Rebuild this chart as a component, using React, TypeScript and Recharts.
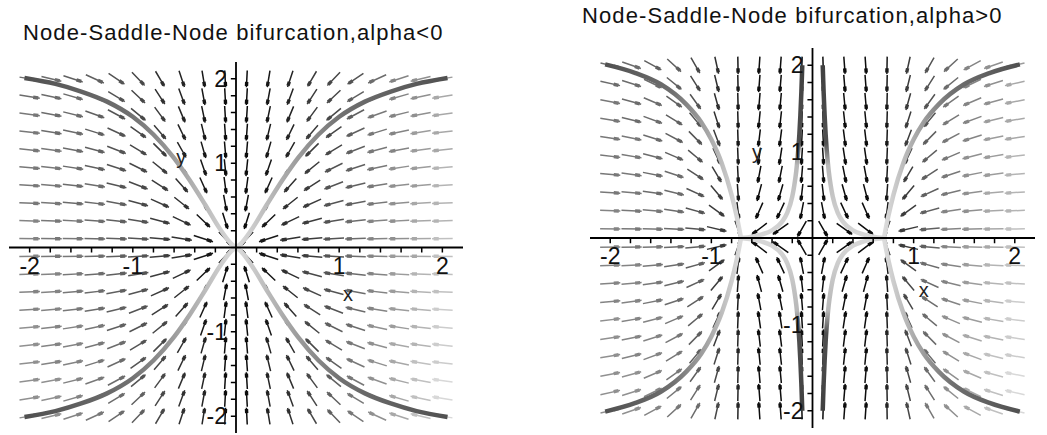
import React from "react";
import { LineChart, Line, XAxis, YAxis, ReferenceLine, ReferenceDot } from "recharts";

// Maple DEplot direction field: 20 x 20 arrows on [-2, 2]
const gridValues = [
  -2, -1.789, -1.579, -1.368, -1.158, -0.947, -0.737, -0.526, -0.316, -0.105,
  0.105, 0.316, 0.526, 0.737, 0.947, 1.158, 1.368, 1.579, 1.789, 2,
];

// x' = x (alpha - x^2), y' = -y ; alpha read from node positions
const alphaLeft = -0.75;
const alphaRight = 0.5;

const minorTicks = [
  -2, -1.8, -1.6, -1.4, -1.2, -1, -0.8, -0.6, -0.4, -0.2,
  0.2, 0.4, 0.6, 0.8, 1, 1.2, 1.4, 1.6, 1.8, 2,
];
const xLabelTicks = [-2, -1, 1, 2];
const yLabelTicks = [2, 1, -1, -2];

// solution curves, first quadrant (the others are mirror images)
const leftCurveX = [2.05, 1.75, 1.5, 1.25, 1.0, 0.8, 0.6, 0.45, 0.3, 0.15, 0.05, 0];
const leftCurveY = [2.01, 1.94, 1.85, 1.73, 1.55, 1.34, 1.06, 0.8, 0.51, 0.21, 0.05, 0];

const rightOuterX = [2.05, 1.75, 1.5, 1.25, 1.1, 1.0, 0.9, 0.8, 0.75, 0.72, 0.707];
const rightOuterY = [2.01, 1.91, 1.78, 1.55, 1.34, 1.14, 0.875, 0.5, 0.254, 0.081, 0];

const rightInnerX = [0.101, 0.105, 0.11, 0.12, 0.13, 0.14, 0.16, 0.18, 0.2, 0.25, 0.3, 0.4, 0.5, 0.6, 0.707];
const rightInnerY = [2.0, 1.86, 1.69, 1.42, 1.2, 1.03, 0.78, 0.61, 0.48, 0.29, 0.19, 0.089, 0.042, 0.016, 0];

// grey level of each arrow column (styling only)
const leftColumnGrey = [130, 125, 118, 108, 95, 80, 62, 45, 28, 12, 12, 28, 45, 65, 85, 105, 130, 150, 170, 190];
const rightColumnGrey = [130, 125, 118, 108, 90, 60, 28, 12, 12, 12, 12, 12, 12, 28, 65, 100, 130, 150, 170, 190];

type Pt = { x: number; y: number | null };

const FONT = '"Liberation Sans", Arial, Helvetica, sans-serif';

function buildArrows(alpha: number, colGrey: number[]) {
  const groups = new Map<number, { shaft: Pt[]; head: Pt[] }>();
  const half = 0.1;
  gridValues.forEach((x, c) => {
    gridValues.forEach((y) => {
      const dx = x * (alpha - x * x);
      const dy = -y;
      const m = Math.hypot(dx, dy) || 1;
      const ux = dx / m;
      const uy = dy / m;
      const rowFrac = (2 - y) / 4;
      const g = Math.min(225, Math.round((colGrey[c] * (0.85 + 0.3 * rowFrac)) / 12) * 12);
      if (!groups.has(g)) groups.set(g, { shaft: [], head: [] });
      const grp = groups.get(g)!;
      grp.shaft.push(
        { x: x - ux * half, y: y - uy * half },
        { x: x + ux * half, y: y + uy * half },
        { x: x + ux * half, y: null }
      );
      grp.head.push(
        { x: x + ux * 0.035, y: y + uy * 0.035 },
        { x: x + ux * 0.085, y: y + uy * 0.085 },
        { x: x + ux * 0.085, y: null }
      );
    });
  });
  return Array.from(groups.entries());
}

function buildTicks(): Pt[] {
  const pts: Pt[] = [];
  minorTicks.forEach((t) => {
    pts.push({ x: t, y: 0 }, { x: t, y: -0.06 }, { x: t, y: null });
  });
  minorTicks.forEach((t) => {
    pts.push({ x: -0.05, y: t }, { x: 0, y: t }, { x: 0, y: null });
  });
  return pts;
}

function curve(xs: number[], ys: number[], sx: number, sy: number): Pt[] {
  return xs
    .map((x, i) => ({ x: x * sx, y: ys[i] * sy }))
    .sort((a, b) => a.x - b.x);
}

const grey = (g: number) => `rgb(${g},${g},${g})`;

interface PanelProps {
  id: string;
  left: number;
  top: number;
  width: number;
  height: number;
  alpha: number;
  colGrey: number[];
  curves: { data: Pt[]; grad: string }[];
  xName: [number, number];
  yName: [number, number];
}

const Panel = ({ id, left, top, width, height, alpha, colGrey, curves, xName, yName }: PanelProps) => {
  const arrows = buildArrows(alpha, colGrey);
  const ticks = buildTicks();
  const labelStyle = { fontSize: 23, fill: "#111", fontFamily: FONT };
  return (
    <div style={{ position: "absolute", left, top }}>
      <LineChart width={width} height={height} margin={{ top: 0, right: 0, bottom: 0, left: 0 }}>
        <defs>
          <linearGradient id={`${id}-dl`} x1="0" y1="0" x2="1" y2="0">
            <stop offset="0" stopColor="#505050" />
            <stop offset="0.5" stopColor="#707070" />
            <stop offset="0.8" stopColor="#b0b0b0" />
            <stop offset="1" stopColor="#dcdcdc" />
          </linearGradient>
          <linearGradient id={`${id}-dr`} x1="1" y1="0" x2="0" y2="0">
            <stop offset="0" stopColor="#505050" />
            <stop offset="0.5" stopColor="#707070" />
            <stop offset="0.8" stopColor="#b0b0b0" />
            <stop offset="1" stopColor="#dcdcdc" />
          </linearGradient>
          <linearGradient id={`${id}-dt`} x1="0" y1="0" x2="0" y2="1">
            <stop offset="0" stopColor="#404040" />
            <stop offset="0.45" stopColor="#505050" />
            <stop offset="0.58" stopColor="#b8b8b8" />
            <stop offset="1" stopColor="#d8d8d8" />
          </linearGradient>
          <linearGradient id={`${id}-db`} x1="0" y1="1" x2="0" y2="0">
            <stop offset="0" stopColor="#404040" />
            <stop offset="0.45" stopColor="#505050" />
            <stop offset="0.58" stopColor="#b8b8b8" />
            <stop offset="1" stopColor="#d8d8d8" />
          </linearGradient>
        </defs>
        <XAxis type="number" dataKey="x" domain={[-2.2, 2.2]} hide allowDataOverflow />
        <YAxis type="number" domain={[-2.2, 2.2]} hide allowDataOverflow />
        {arrows.map(([g, grp]) => (
          <Line
            key={`s${g}`}
            data={grp.shaft}
            dataKey="y"
            type="linear"
            stroke={grey(g)}
            strokeWidth={1.5}
            dot={false}
            activeDot={false}
            connectNulls={false}
            isAnimationActive={false}
          />
        ))}
        {arrows.map(([g, grp]) => (
          <Line
            key={`h${g}`}
            data={grp.head}
            dataKey="y"
            type="linear"
            stroke={grey(g)}
            strokeWidth={3.4}
            dot={false}
            activeDot={false}
            connectNulls={false}
            isAnimationActive={false}
          />
        ))}
        {curves.map((c, i) => (
          <Line
            key={`c${i}`}
            data={c.data}
            dataKey="y"
            type="monotone"
            stroke={`url(#${id}-${c.grad})`}
            strokeWidth={4.5}
            dot={false}
            activeDot={false}
            isAnimationActive={false}
          />
        ))}
        <ReferenceLine x={0} stroke="#000" strokeWidth={1.8} />
        <ReferenceLine y={0} stroke="#000" strokeWidth={1.8} />
        <Line
          data={ticks}
          dataKey="y"
          type="linear"
          stroke="#000"
          strokeWidth={1.5}
          dot={false}
          activeDot={false}
          connectNulls={false}
          isAnimationActive={false}
        />
        {xLabelTicks.map((t) => (
          <ReferenceDot
            key={`xl${t}`}
            x={t}
            y={0}
            r={0}
            fill="none"
            stroke="none"
            label={{ value: String(t), position: "bottom", offset: 10, ...labelStyle }}
          />
        ))}
        {yLabelTicks.map((t) => (
          <ReferenceDot
            key={`yl${t}`}
            x={0}
            y={t}
            r={0}
            fill="none"
            stroke="none"
            label={{ value: String(t), position: "left", offset: 9, ...labelStyle }}
          />
        ))}
        <ReferenceDot
          x={xName[0]}
          y={xName[1]}
          r={0}
          fill="none"
          stroke="none"
          label={{ value: "x", position: "center", fontSize: 20, fill: "#222", fontFamily: FONT }}
        />
        <ReferenceDot
          x={yName[0]}
          y={yName[1]}
          r={0}
          fill="none"
          stroke="none"
          label={{ value: "y", position: "center", fontSize: 20, fill: "#222", fontFamily: FONT }}
        />
      </LineChart>
    </div>
  );
};

const titleStyle: React.CSSProperties = {
  position: "absolute",
  fontFamily: FONT,
  fontSize: 22,
  lineHeight: "22px",
  letterSpacing: "1.1px",
  color: "#111",
  whiteSpace: "nowrap",
};

export default function App() {
  const leftCurves = [
    { data: curve(leftCurveX, leftCurveY, 1, 1), grad: "dr" },
    { data: curve(leftCurveX, leftCurveY, -1, 1), grad: "dl" },
    { data: curve(leftCurveX, leftCurveY, 1, -1), grad: "dr" },
    { data: curve(leftCurveX, leftCurveY, -1, -1), grad: "dl" },
  ];
  const rightCurves = [
    { data: curve(rightOuterX, rightOuterY, 1, 1), grad: "dr" },
    { data: curve(rightOuterX, rightOuterY, -1, 1), grad: "dl" },
    { data: curve(rightOuterX, rightOuterY, 1, -1), grad: "dr" },
    { data: curve(rightOuterX, rightOuterY, -1, -1), grad: "dl" },
    { data: curve(rightInnerX, rightInnerY, 1, 1), grad: "dt" },
    { data: curve(rightInnerX, rightInnerY, -1, 1), grad: "dt" },
    { data: curve(rightInnerX, rightInnerY, 1, -1), grad: "db" },
    { data: curve(rightInnerX, rightInnerY, -1, -1), grad: "db" },
  ];
  return (
    <div style={{ position: "absolute", left: 0, top: 0, width: 1047, height: 435, background: "#fff", overflow: "hidden" }}>
      <div style={{ ...titleStyle, left: 23, top: 22 }}>Node-Saddle-Node bifurcation,alpha&lt;0</div>
      <div style={{ ...titleStyle, left: 582, top: 5 }}>Node-Saddle-Node bifurcation,alpha&gt;0</div>
      <Panel
        id="pl"
        left={9}
        top={62}
        width={454}
        height={371}
        alpha={alphaLeft}
        colGrey={leftColumnGrey}
        curves={leftCurves}
        xName={[1.085, -0.55]}
        yName={[-0.53, 1.07]}
      />
      <Panel
        id="pr"
        left={590}
        top={48}
        width={445}
        height={380}
        alpha={alphaRight}
        colGrey={rightColumnGrey}
        curves={rightCurves}
        xName={[1.1, -0.6]}
        yName={[-0.55, 1.0]}
      />
    </div>
  );
}
